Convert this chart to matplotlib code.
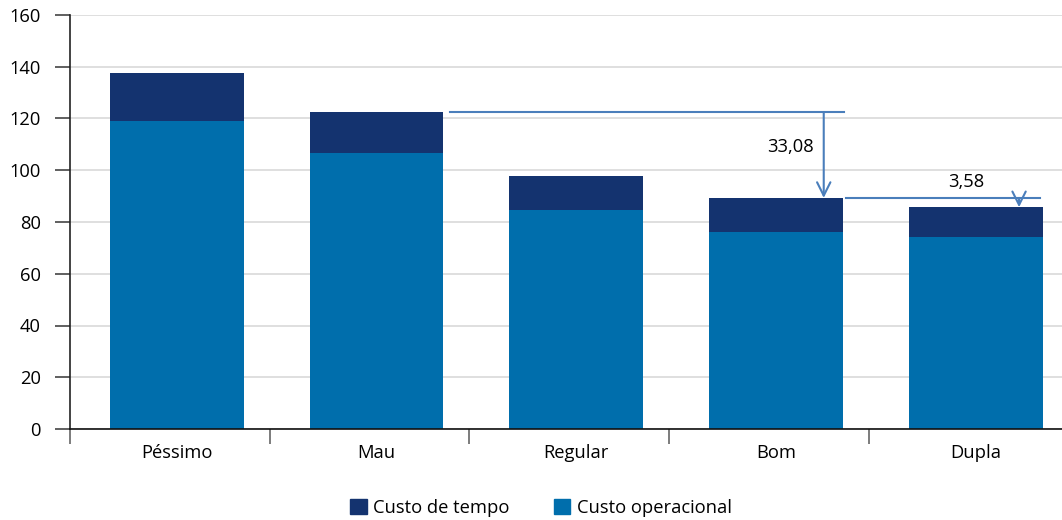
import matplotlib.pyplot as plt
import matplotlib.patches as mpatches
import numpy as np

plt.rcParams['font.family'] = ['Open Sans', 'DejaVu Sans']

# Data.
categories = ['Péssimo', 'Mau', 'Regular', 'Bom', 'Dupla']
custo_operacional = [119.2, 106.7, 84.6, 76.1, 74.3]
custo_tempo = [18.5, 15.68, 13.2, 13.2, 11.42]
yticks = [0, 20, 40, 60, 80, 100, 120, 140, 160]
diff_labels = ['33,08', '3,58']

dark = '#14336F'
blue = '#006EAC'
arrow_col = '#4A7EBB'
fs = 13.2

fig = plt.figure(figsize=(10.62, 5.2), dpi=100)
ax = fig.add_axes([70/1062, 1-429/520, 1-70/1062, (429-15)/520])

x = np.arange(len(categories)) + 0.035
totals = np.array(custo_operacional) + np.array(custo_tempo)

ax.bar(x, custo_operacional, width=0.67, color=blue, zorder=2)
ax.bar(x, custo_tempo, width=0.67, bottom=custo_operacional, color=dark, zorder=2)

ax.set_xlim(-0.5, 4.467)
ax.set_ylim(0, 160)
ax.set_yticks(yticks)
ax.yaxis.grid(True, color='#D9D9D9', linewidth=1.2, zorder=0)
ax.set_axisbelow(True)

# Category labels under the bars, tick marks at the category boundaries.
ax.set_xticks(x)
ax.set_xticklabels(categories)
ax.set_xticks(np.arange(len(categories)) - 0.5, minor=True)
ax.tick_params(axis='x', which='major', length=0, pad=11, labelsize=fs)
ax.tick_params(axis='x', which='minor', length=11, width=1.2, color='#666666')
ax.tick_params(axis='y', length=11, width=1.2, color='#444444', pad=10, labelsize=fs)

for s in ['top', 'right']:
    ax.spines[s].set_visible(False)
ax.spines['left'].set_color('#222222')
ax.spines['bottom'].set_color('#111111')
ax.spines['left'].set_linewidth(1.2)
ax.spines['bottom'].set_linewidth(1.2)

# Difference annotations: Mau -> Bom, Bom -> Dupla.
arrow_kw = dict(arrowstyle='->', color=arrow_col, lw=1.5, mutation_scale=24,
                shrinkA=0, shrinkB=0)
ax.plot([1.403, 3.374], [totals[1], totals[1]], color=arrow_col, lw=1.5, zorder=3)
ax.annotate('', xy=(3.274, totals[3]), xytext=(3.274, totals[1]),
            arrowprops=arrow_kw, zorder=3)
ax.text(3.226, 109.1, diff_labels[0], ha='right', va='center', fontsize=fs)

ax.plot([3.386, 4.357], [totals[3], totals[3]], color=arrow_col, lw=1.5, zorder=3)
ax.annotate('', xy=(4.252, totals[4]), xytext=(4.252, totals[3]),
            arrowprops=arrow_kw, zorder=3)
ax.text(3.99, 95.6, diff_labels[1], ha='center', va='center', fontsize=fs)

handles = [mpatches.Patch(color=dark, label='Custo de tempo'),
           mpatches.Patch(color=blue, label='Custo operacional')]
fig.legend(handles=handles, loc='center', bbox_to_anchor=(541/1062, 1-508/520),
           ncol=2, frameon=False, fontsize=fs, handlelength=0.9, handleheight=0.9,
           handletextpad=0.35, columnspacing=2.4)

plt.savefig('out.png', dpi=100)
